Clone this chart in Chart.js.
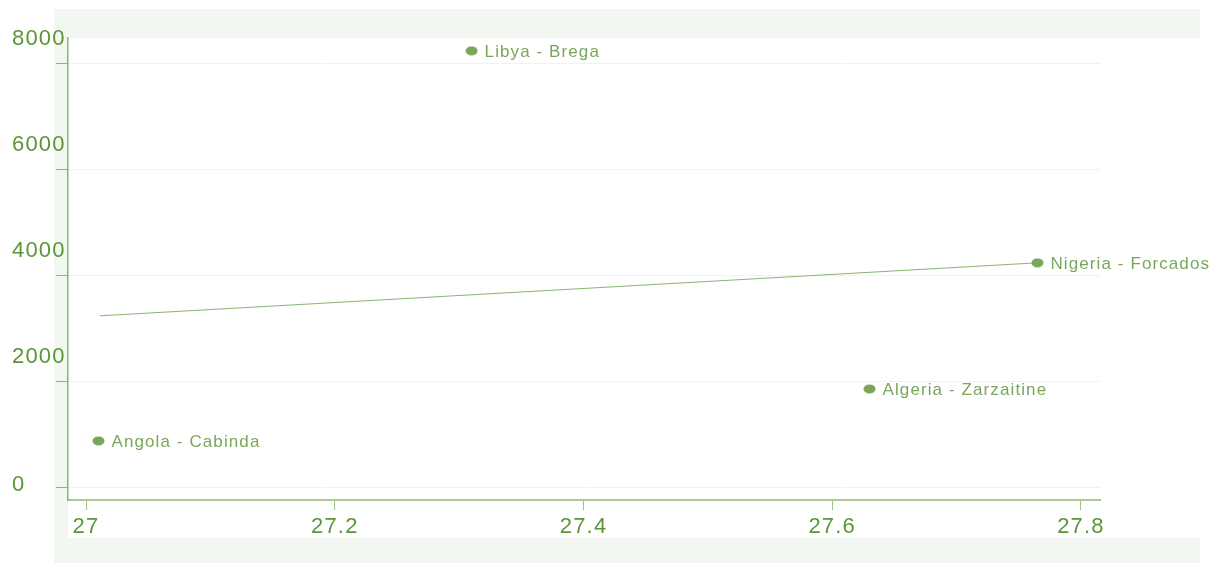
<!DOCTYPE html>
<html>
<head>
<meta charset="utf-8">
<script src="https://cdn.jsdelivr.net/npm/chart.js@4.4.1/dist/chart.umd.min.js"></script>
<style>
  body { margin: 0; background: #ffffff; }
  canvas { display: block; }
</style>
</head>
<body>
<canvas id="myChart" width="1213" height="564"></canvas>
<script>
// data
const names = ['Angola - Cabinda', 'Libya - Brega', 'Algeria - Zarzaitine', 'Nigeria - Forcados'];
const xVals = [27.01, 27.31, 27.63, 27.765];
const yVals = [870, 8230, 1850, 4230];
// fitted line end points
const fitX = [27.011, 27.765];
const fitY = [3230, 4230];
const xTicks = [27, 27.2, 27.4, 27.6, 27.8];
const yTicks = [0, 2000, 4000, 6000, 8000];

const green = '#7aa65a';
const textGreen = '#5a9636';

// slightly flattened dot
var dot = document.createElement('canvas');
dot.width = 13; dot.height = 10;
var dctx = dot.getContext('2d');
dctx.fillStyle = green;
dctx.beginPath();
dctx.ellipse(6.5, 5, 6, 4.5, 0, 0, Math.PI * 2);
dctx.fill();

var panelPlugin = {
  id: 'panel',
  beforeDraw: function(chart) {
    var ctx = chart.ctx;
    ctx.letterSpacing = '1.2px';
    ctx.save();
    ctx.fillStyle = '#f3f7f1';
    ctx.fillRect(54, 9, 1146, 554);
    ctx.fillStyle = '#ffffff';
    ctx.fillRect(68, 38, 1132, 500);
    ctx.restore();
  }
};

var namePlugin = {
  id: 'names',
  afterDatasetsDraw: function(chart) {
    var ctx = chart.ctx;
    var meta = chart.getDatasetMeta(0);
    ctx.save();
    ctx.letterSpacing = '1.1px';
    ctx.font = '17px "Liberation Sans", Arial, sans-serif';
    ctx.fillStyle = green;
    ctx.textAlign = 'left';
    ctx.textBaseline = 'middle';
    meta.data.forEach(function(pt, i) {
      ctx.fillText(names[i], pt.x + 13, pt.y + 1);
    });
    ctx.restore();
  }
};

var myChart = new Chart(document.getElementById('myChart'), {
  type: 'scatter',
  data: {
    datasets: [{
      data: xVals.map(function(x, i) { return { x: x, y: yVals[i] }; }),
      pointStyle: dot,
      pointRadius: 6,
      pointHoverRadius: 6,
      order: 0
    }, {
      type: 'line',
      data: fitX.map(function(x, i) { return { x: x, y: fitY[i] }; }),
      borderColor: '#8ab56f',
      borderWidth: 1,
      pointRadius: 0,
      fill: false,
      order: 1
    }]
  },
  options: {
    responsive: false,
    animation: false,
    layout: { padding: { left: 12, right: 113, top: 38, bottom: 0 } },
    plugins: { legend: { display: false }, tooltip: { enabled: false } },
    scales: {
      x: {
        type: 'linear',
        min: 26.9855,
        max: 27.8153,
        afterBuildTicks: function(scale) { scale.ticks = xTicks.map(function(v) { return { value: v }; }); },
        afterFit: function(scale) { scale.height = 64; },
        border: { color: '#a8c896', width: 2 },
        grid: { drawOnChartArea: false, tickLength: 10, tickColor: '#9cc485' },
        ticks: {
          color: textGreen,
          padding: 4,
          maxRotation: 0,
          font: { family: '"Liberation Sans", Arial, sans-serif', size: 22 },
          callback: function(v) { return String(Math.round(v * 10) / 10); }
        }
      },
      y: {
        min: -245,
        max: 8472,
        afterBuildTicks: function(scale) { scale.ticks = yTicks.map(function(v) { return { value: v }; }); },
        afterFit: function(scale) { scale.width = 56; },
        border: { color: '#8ab56f', width: 1.5 },
        grid: { color: '#f2f2f2', tickLength: 12, tickColor: '#8ab56f' },
        ticks: {
          color: textGreen,
          crossAlign: 'far',
          labelOffset: -2,
          font: { family: '"Liberation Sans", Arial, sans-serif', size: 22, lineHeight: 1 },
          callback: function(v) { return v === 0 ? '0' : [String(v), '', '']; }
        }
      }
    }
  },
  plugins: [panelPlugin, namePlugin]
});
</script>
</body>
</html>
